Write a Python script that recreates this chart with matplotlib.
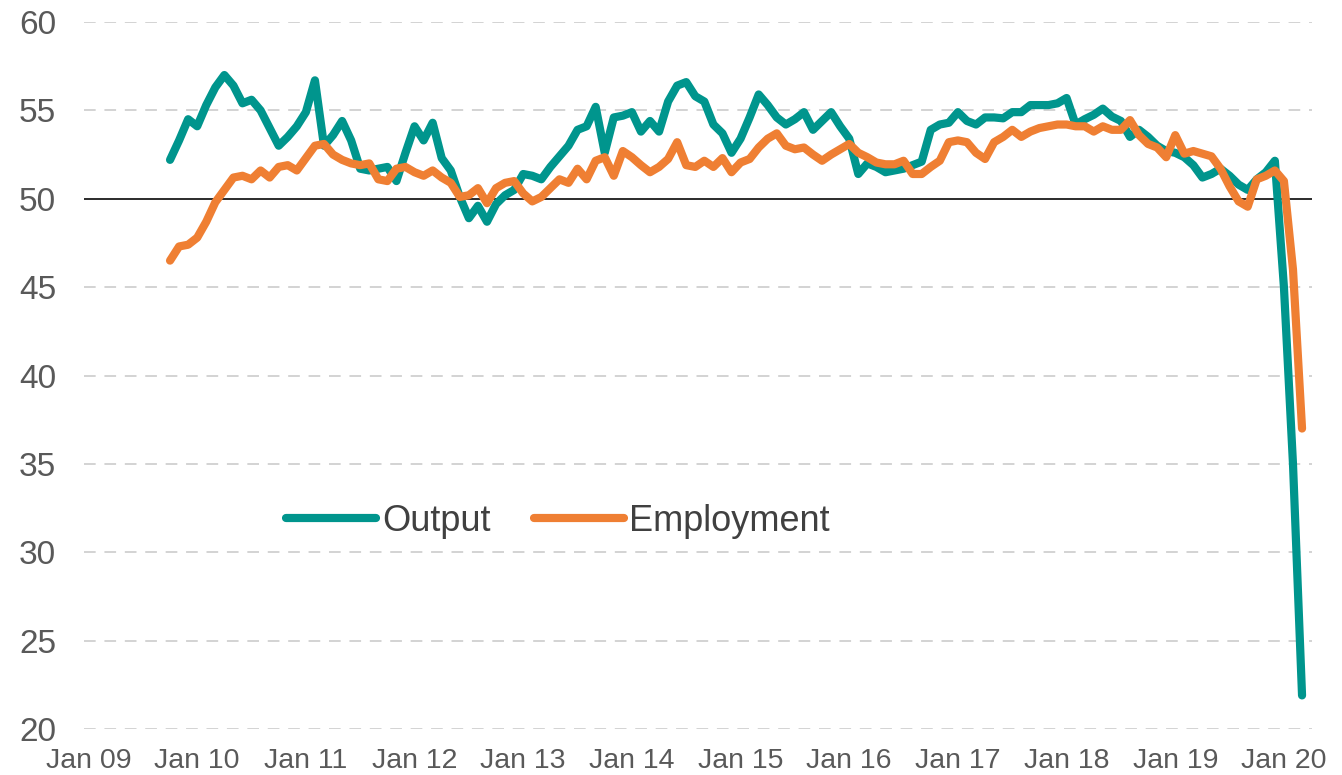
import matplotlib
matplotlib.use("Agg")
import matplotlib.pyplot as plt
import numpy as np
import pandas as pd

# Monthly data, Oct 2009 - Mar 2020
start_month = "2009-10"
output = [52.2, 53.3, 54.5, 54.1, 55.3, 56.3, 57.0, 56.4, 55.4, 55.6,
          55.0, 54.0, 53.0, 53.5, 54.1, 54.9, 56.7, 53.0, 53.6, 54.4,
          53.3, 51.7, 51.6, 51.7, 51.8, 51.0, 52.6, 54.1, 53.3, 54.3,
          52.3, 51.6, 50.1, 48.9, 49.6, 48.7, 49.7, 50.2, 50.5, 51.4,
          51.3, 51.1, 51.8, 52.4, 53.0, 53.9, 54.1, 55.2, 52.6, 54.6,
          54.7, 54.9, 53.8, 54.4, 53.8, 55.5, 56.4, 56.6, 55.8, 55.5,
          54.2, 53.7, 52.6, 53.4, 54.6, 55.9, 55.3, 54.6, 54.2, 54.5,
          54.9, 53.9, 54.4, 54.9, 54.1, 53.4, 51.4, 52.0, 51.8, 51.5,
          51.6, 51.7, 51.9, 52.1, 53.9, 54.2, 54.3, 54.9, 54.4, 54.2,
          54.6, 54.6, 54.55, 54.9, 54.9, 55.3, 55.3, 55.3, 55.4, 55.7,
          54.2, 54.5, 54.75, 55.1, 54.65, 54.4, 53.5, 53.9, 53.5, 53.0,
          52.7, 52.6, 52.35, 51.9, 51.2, 51.4, 51.7, 51.3, 50.8, 50.5,
          51.1, 51.5, 52.15, 45.0, 35.0, 21.9]
employment = [46.5, 47.3, 47.4, 47.8, 48.7, 49.8, 50.5, 51.2, 51.3, 51.1,
              51.6, 51.2, 51.8, 51.9, 51.6, 52.3, 53.0, 53.1, 52.5, 52.2,
              52.0, 51.9, 52.0, 51.1, 51.0, 51.7, 51.8, 51.5, 51.3, 51.6,
              51.2, 50.9, 50.1, 50.2, 50.6, 49.75, 50.6, 50.9, 51.0, 50.3,
              49.85, 50.1, 50.6, 51.1, 50.9, 51.7, 51.1, 52.15, 52.35, 51.3,
              52.7, 52.35, 51.9, 51.5, 51.8, 52.25, 53.2, 51.9, 51.8, 52.15,
              51.8, 52.3, 51.5, 52.05, 52.25, 52.9, 53.4, 53.7, 53.0, 52.8,
              52.9, 52.5, 52.15, 52.5, 52.8, 53.1, 52.6, 52.35, 52.05, 51.95,
              51.95, 52.15, 51.4, 51.4, 51.8, 52.15, 53.2, 53.3, 53.2, 52.6,
              52.25, 53.2, 53.5, 53.9, 53.5, 53.8, 54.0, 54.1, 54.2, 54.2,
              54.1, 54.1, 53.8, 54.1, 53.9, 53.9, 54.45, 53.6, 53.1, 52.9,
              52.35, 53.6, 52.55, 52.7, 52.55, 52.4, 51.7, 50.7, 49.85, 49.55,
              51.1, 51.3, 51.6, 51.0, 46.0, 37.0]
series_names = ["Output", "Employment"]
tick_labels = ["Jan 09", "Jan 10", "Jan 11", "Jan 12", "Jan 13", "Jan 14",
               "Jan 15", "Jan 16", "Jan 17", "Jan 18", "Jan 19", "Jan 20"]
y_ticks = [20, 25, 30, 35, 40, 45, 50, 55, 60]

months = pd.date_range(start_month, periods=len(output), freq="MS")
origin = pd.Timestamp("2009-01-01")
x = np.array([(d.year - origin.year) * 12 + d.month - origin.month for d in months])
tick_pos = [12 * k for k in range(len(tick_labels))]

TEAL = "#00958D"
ORANGE = "#EF7F33"
TXT = "#595959"

plt.rcParams["font.family"] = ["Liberation Sans", "DejaVu Sans"]

fig = plt.figure(figsize=(13.42, 7.75), dpi=100)
ax = fig.add_axes([84 / 1342, 1 - 729 / 775, (1312 - 84) / 1342, (729 - 22) / 775])

for yv in y_ticks:
    if yv == 50:
        ax.axhline(yv, color="#1a1a1a", lw=1.3, zorder=1)
    else:
        ax.axhline(yv, color="#D3D3D3", lw=1.4, ls=(0, (6, 4.5)), zorder=0)

ax.plot(x, output, color=TEAL, lw=5.9, solid_capstyle="round",
        solid_joinstyle="round", label=series_names[0], zorder=3)
ax.plot(x, employment, color=ORANGE, lw=5.9, solid_capstyle="round",
        solid_joinstyle="round", label=series_names[1], zorder=3)

ax.set_xlim(-0.5, 135.1)
ax.set_ylim(20, 60)
ax.set_yticks(y_ticks)
ax.set_xticks(tick_pos)
ax.set_xticklabels(tick_labels)
ax.tick_params(axis="y", length=0, labelsize=24, labelcolor=TXT, pad=20)
ax.tick_params(axis="x", length=0, labelsize=20.5, labelcolor=TXT, pad=14)
for s in ax.spines.values():
    s.set_visible(False)

leg = ax.legend(loc="center", bbox_to_anchor=(0.386, 0.294), ncol=2,
                frameon=False, fontsize=26, handlelength=2.5,
                handletextpad=0.15, columnspacing=1.2)
for t in leg.get_texts():
    t.set_color("#404040")
for h in leg.get_lines():
    h.set_linewidth(5.9)
    h.set_solid_capstyle("round")

fig.savefig("out.png", dpi=100)
